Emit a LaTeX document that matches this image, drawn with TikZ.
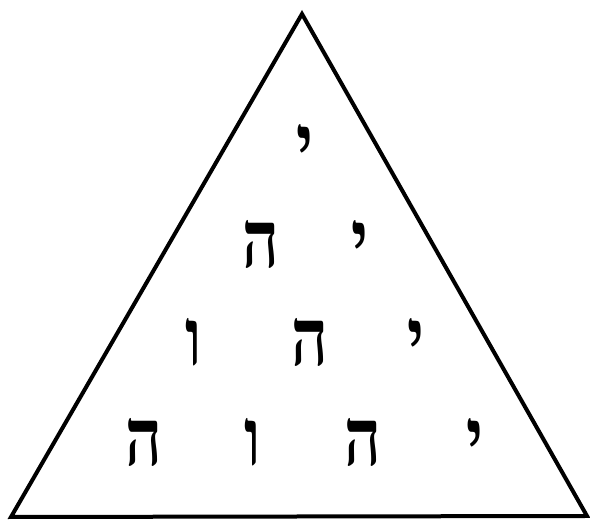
\documentclass[tikz,border=0pt]{standalone}
\usepackage{fontspec}
\usepackage{tikz}
\usetikzlibrary{positioning}
\TeXXeTstate=1
\newfontfamily\hebfont[Script=Hebrew]{Liberation Serif}
\newcommand{\heb}[1]{\scalebox{0.8}[1]{\beginR #1\endR}}
\tikzset{
  frame/.style={draw, line width=4pt, line join=miter},
  letter/.style={font=\hebfont\bfseries\fontsize{80}{80}\selectfont, inner sep=0pt, anchor=base}
}

\begin{document}
\begin{tikzpicture}[x=1pt, y=1pt]
  \useasboundingbox (0,0) rectangle (590,522);
  \coordinate (apex) at (302,508);
  \coordinate (bl) at (11,5);
  \coordinate (br) at (587,6);
  \draw[frame] (apex) -- (bl) -- (br) -- cycle;

  % row 1
  \node[letter] (yodA) at (305,350) {\heb{י}};
  % row 2
  \node[letter] (heB) at (261,254) {\heb{ה}};
  \node[letter] (yodB) at (360,254) {\heb{י}};
  % row 3
  \node[letter] (vavC) at (194,156) {\heb{ו}};
  \node[letter] (heC) at (310,156) {\heb{ה}};
  \node[letter] (yodC) at (416,156) {\heb{י}};
  % row 4
  \node[letter] (heD) at (144,56) {\heb{ה}};
  \node[letter] (vavD) at (253,56) {\heb{ו}};
  \node[letter] (heD2) at (363,56) {\heb{ה}};
  \node[letter] (yodD) at (475,56) {\heb{י}};
\end{tikzpicture}
\end{document}
